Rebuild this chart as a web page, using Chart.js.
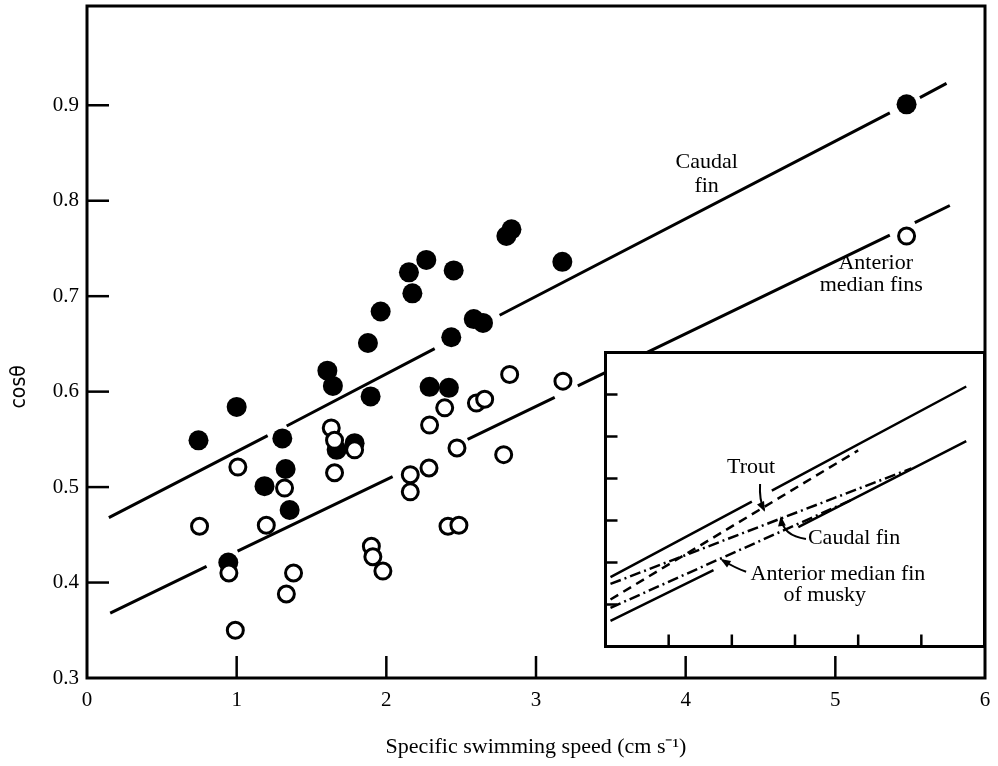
<!DOCTYPE html>
<html>
<head>
<meta charset="utf-8">
<script src="https://cdn.jsdelivr.net/npm/chart.js@4.4.0/dist/chart.umd.min.js"></script>
<style>
    html, body { margin: 0; padding: 0; background: #fff; }
    #wrap { position: relative; width: 998px; height: 766px; }
    #mainChart { position: absolute; left: 0; top: 0; }
    #insetBox { position: absolute; left: 604px; top: 351px; width: 382px; height: 297px; background: #fff; }
</style>
</head>
<body>
<div id="wrap">
    <canvas id="mainChart" width="998" height="766"></canvas>
    <div id="insetBox"><canvas id="insetChart" width="382" height="297"></canvas></div>
</div>
<script>
// Caudal fin (filled circles)
const caudalX = [1.00, 0.745, 1.305, 1.327, 1.186, 1.354, 0.944, 1.668, 1.788, 1.877, 1.606, 1.643, 1.895, 1.962,
    2.151, 2.174, 2.267, 2.434, 2.289, 2.418, 2.450, 2.584, 2.646, 2.802, 2.836, 3.176, 5.476];
const caudalY = [0.584, 0.549, 0.551, 0.519, 0.501, 0.476, 0.421, 0.539, 0.546, 0.651, 0.622, 0.606, 0.595, 0.684,
    0.725, 0.703, 0.738, 0.657, 0.605, 0.604, 0.727, 0.676, 0.672, 0.763, 0.770, 0.736, 0.901];

// Anterior median fins (open circles)
const medianX = [1.008, 0.752, 1.198, 0.948, 1.380, 1.332, 0.991, 1.632, 1.654, 1.788, 1.654, 1.900, 1.910, 1.977,
    2.824, 2.390, 2.289, 2.602, 2.657, 3.180, 2.472, 2.784, 2.285, 2.160, 2.160, 2.412, 2.485, 5.476, 1.320];
const medianY = [0.521, 0.459, 0.460, 0.410, 0.410, 0.388, 0.350, 0.562, 0.549, 0.539, 0.515, 0.438, 0.427, 0.412,
    0.618, 0.583, 0.565, 0.588, 0.592, 0.611, 0.541, 0.534, 0.520, 0.513, 0.495, 0.459, 0.460, 0.763, 0.499];

// fitted lines, broken where they pass the symbols (null = gap)
const caudalLineX = [0.146, 1.207, null, 1.334, 2.323, null, 2.757, 5.364, null, 5.565, 5.743];
const caudalLineY = [0.468, 0.554, null, 0.564, 0.645, null, 0.680, 0.892, null, 0.908, 0.923];
const medianLineX = [0.155, 0.799, null, 1.006, 2.042, null, 2.543, 3.125, null, 3.279, 5.364, null, 5.531, 5.765];
const medianLineY = [0.368, 0.417, null, 0.433, 0.511, null, 0.550, 0.594, null, 0.606, 0.764, null, 0.777, 0.795];

const xTicks = [0, 1, 2, 3, 4, 5, 6];
const yTicks = [0.3, 0.4, 0.5, 0.6, 0.7, 0.8, 0.9];

// Inset
const insetUpperX = [0.079, 2.317, null, 2.633, 5.711];
const insetUpperY = [0.465, 0.645, null, 0.671, 0.919];
const insetLowerX = [0.079, 1.71, null, 3.052, 5.711];
const insetLowerY = [0.361, 0.482, null, 0.584, 0.789];
const troutX = [0.079, 4.0];
const troutY = [0.412, 0.767];
const muskyCaudalX = [0.079, 4.843];
const muskyCaudalY = [0.449, 0.724];
const muskyMedianX = [0.079, 3.895];
const muskyMedianY = [0.392, 0.649];
const insetXTicks = [1, 2, 3, 4, 5];
const insetYTicks = [0.4, 0.5, 0.6, 0.7, 0.8, 0.9];

const SERIF = "'Liberation Serif', 'Times New Roman', serif";
Chart.defaults.font.family = SERIF;
Chart.defaults.color = '#000';

function toPoints(xs, ys) {
    return xs.map((x, i) => ({ x: x === null ? xs[i - 1] : x, y: ys[i] }));
}

function drawArrow(ctx, p0, p1, p2) {
    ctx.beginPath();
    ctx.moveTo(p0.x, p0.y);
    ctx.quadraticCurveTo(p1.x, p1.y, p2.x, p2.y);
    ctx.stroke();
    const ang = Math.atan2(p2.y - p1.y, p2.x - p1.x);
    const len = 9;
    ctx.beginPath();
    ctx.moveTo(p2.x + 2 * Math.cos(ang), p2.y + 2 * Math.sin(ang));
    ctx.lineTo(p2.x - len * Math.cos(ang - 0.45), p2.y - len * Math.sin(ang - 0.45));
    ctx.lineTo(p2.x - len * Math.cos(ang + 0.45), p2.y - len * Math.sin(ang + 0.45));
    ctx.closePath();
    ctx.fill();
}

// frame, inward ticks and the labels on the main plot
const mainDecor = {
    id: 'mainDecor',
    afterDraw(chart) {
        const { ctx, chartArea: a, scales: { x, y } } = chart;
        ctx.save();
        ctx.strokeStyle = '#000';
        ctx.lineWidth = 3;
        ctx.strokeRect(a.left, a.top, a.right - a.left, a.bottom - a.top);
        ctx.lineWidth = 2.5;
        yTicks.slice(1).forEach(v => {
            const py = y.getPixelForValue(v);
            ctx.beginPath(); ctx.moveTo(a.left, py); ctx.lineTo(a.left + 22, py); ctx.stroke();
        });
        xTicks.slice(1, -1).forEach(v => {
            const px = x.getPixelForValue(v);
            ctx.beginPath(); ctx.moveTo(px, a.bottom); ctx.lineTo(px, a.bottom - 22); ctx.stroke();
        });
        ctx.fillStyle = '#000';
        ctx.font = '22px ' + SERIF;
        ctx.textAlign = 'center';
        ctx.textBaseline = 'middle';
        ctx.fillText('Caudal', x.getPixelForValue(4.14), y.getPixelForValue(0.840));
        ctx.fillText('fin', x.getPixelForValue(4.14), y.getPixelForValue(0.815));
        ctx.fillText('Anterior', x.getPixelForValue(5.27), y.getPixelForValue(0.735));
        ctx.fillText('median fins', x.getPixelForValue(5.24), y.getPixelForValue(0.712));
        // y-axis title sits below the middle of the axis in the original
        ctx.translate(20, y.getPixelForValue(0.605));
        ctx.rotate(-Math.PI / 2);
        ctx.font = "21px 'DejaVu Sans Condensed', 'Liberation Sans', sans-serif";
        ctx.fillText('cos\u03B8', 0, 0);
        ctx.restore();
    }
};

new Chart(document.getElementById('mainChart'), {
    type: 'scatter',
    data: {
        datasets: [
            {
                label: 'Anterior median fins',
                data: toPoints(medianX, medianY),
                pointRadius: 8,
                pointBorderWidth: 3,
                pointBackgroundColor: '#fff',
                pointBorderColor: '#000',
                order: 0
            },
            {
                label: 'Caudal fin',
                data: toPoints(caudalX, caudalY),
                pointRadius: 10,
                pointBorderWidth: 0,
                pointBackgroundColor: '#000',
                order: 1
            },
            {
                type: 'line',
                label: 'Caudal fin fit',
                data: toPoints(caudalLineX, caudalLineY),
                borderColor: '#000',
                borderWidth: 3,
                pointRadius: 0,
                order: 2
            },
            {
                type: 'line',
                label: 'Anterior median fins fit',
                data: toPoints(medianLineX, medianLineY),
                borderColor: '#000',
                borderWidth: 3,
                pointRadius: 0,
                order: 2
            }
        ]
    },
    options: {
        responsive: false,
        animation: false,
        devicePixelRatio: 1,
        layout: { autoPadding: false, padding: { top: 6, right: 13, left: 0, bottom: 0 } },
        plugins: { legend: { display: false }, tooltip: { enabled: false } },
        scales: {
            x: {
                type: 'linear',
                min: 0,
                max: 6,
                afterBuildTicks: s => { s.ticks = xTicks.map(v => ({ value: v })); },
                afterFit: s => { s.height = 88; s.paddingLeft = 0; s.paddingRight = 0; },
                grid: { display: false, drawTicks: false },
                border: { display: false },
                ticks: { padding: 10, font: { size: 21 }, maxRotation: 0, callback: v => String(v) },
                title: {
                    display: true,
                    text: 'Specific swimming speed (cm s\u207B\u00B9)',
                    font: { size: 22 },
                    padding: { top: 0, bottom: 6 }
                }
            },
            y: {
                type: 'linear',
                min: 0.3,
                max: 1.004,
                afterBuildTicks: s => { s.ticks = yTicks.map(v => ({ value: v })); },
                afterFit: s => { s.width = 87; s.paddingTop = 0; s.paddingBottom = 0; },
                grid: { display: false, drawTicks: false },
                border: { display: false },
                ticks: { padding: 8, font: { size: 21 }, callback: v => v.toFixed(1) },
                title: { display: false }
            }
        }
    },
    plugins: [mainDecor]
});

// inset: frame, ticks, labels and arrows
const insetDecor = {
    id: 'insetDecor',
    afterDraw(chart) {
        const { ctx, chartArea: a, scales: { x, y } } = chart;
        const P = (vx, vy) => ({ x: x.getPixelForValue(vx), y: y.getPixelForValue(vy) });
        ctx.save();
        ctx.strokeStyle = '#000';
        ctx.fillStyle = '#000';
        ctx.lineWidth = 3;
        ctx.strokeRect(a.left, a.top, a.right - a.left, a.bottom - a.top);
        ctx.lineWidth = 2.5;
        insetYTicks.forEach(v => {
            const py = y.getPixelForValue(v);
            ctx.beginPath(); ctx.moveTo(a.left, py); ctx.lineTo(a.left + 12, py); ctx.stroke();
        });
        insetXTicks.forEach(v => {
            const px = x.getPixelForValue(v);
            ctx.beginPath(); ctx.moveTo(px, a.bottom); ctx.lineTo(px, a.bottom - 12); ctx.stroke();
        });
        ctx.font = '22px ' + SERIF;
        ctx.textBaseline = 'middle';
        ctx.textAlign = 'center';
        let p = P(2.305, 0.727);
        ctx.fillText('Trout', p.x, p.y);
        ctx.textAlign = 'left';
        p = P(3.205, 0.559);
        ctx.fillText('Caudal fin', p.x, p.y);
        ctx.textAlign = 'center';
        p = P(3.68, 0.471);
        ctx.fillText('Anterior median fin', p.x, p.y);
        p = P(3.47, 0.421);
        ctx.fillText('of musky', p.x, p.y);
        ctx.lineWidth = 2;
        drawArrow(ctx, P(2.447, 0.687), P(2.432, 0.649), P(2.511, 0.625));
        drawArrow(ctx, P(3.174, 0.556), P(2.811, 0.563), P(2.779, 0.606));
        drawArrow(ctx, P(2.226, 0.478), P(2.053, 0.487), P(1.847, 0.506));
        ctx.restore();
    }
};

const insetLine = (label, xs, ys, dash) => ({
    label,
    data: toPoints(xs, ys),
    borderColor: '#000',
    borderWidth: 2.5,
    borderDash: dash,
    pointRadius: 0
});

new Chart(document.getElementById('insetChart'), {
    type: 'line',
    data: {
        datasets: [
            insetLine('Caudal fin fit', insetUpperX, insetUpperY, []),
            insetLine('Anterior median fins fit', insetLowerX, insetLowerY, []),
            insetLine('Trout', troutX, troutY, [9, 6]),
            insetLine('Caudal fin (musky)', muskyCaudalX, muskyCaudalY, [11, 4, 2, 4]),
            insetLine('Anterior median fin of musky', muskyMedianX, muskyMedianY, [11, 4, 2, 4])
        ]
    },
    options: {
        responsive: false,
        animation: false,
        devicePixelRatio: 1,
        layout: { autoPadding: false, padding: 1.5 },
        plugins: { legend: { display: false }, tooltip: { enabled: false } },
        scales: {
            x: { type: 'linear', min: 0, max: 6, display: false },
            y: { type: 'linear', min: 0.3, max: 1.0, display: false }
        }
    },
    plugins: [insetDecor]
});
</script>
</body>
</html>
